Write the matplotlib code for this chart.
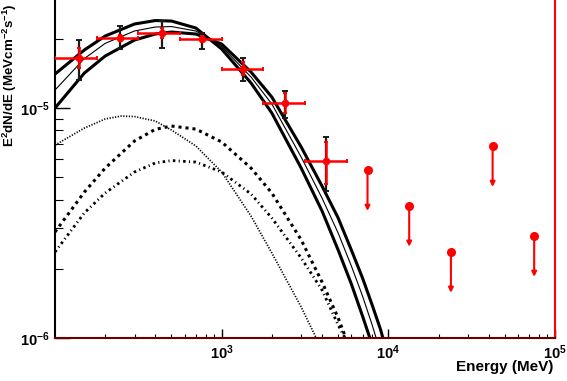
import matplotlib
matplotlib.use('Agg')
import matplotlib.pyplot as plt
from matplotlib.ticker import FixedLocator, NullFormatter, FuncFormatter
from matplotlib.transforms import offset_copy
import numpy as np

plt.rcParams['font.family'] = ['Liberation Sans', 'DejaVu Sans']
plt.rcParams['font.weight'] = 'bold'
plt.rcParams['mathtext.fontset'] = 'custom'
plt.rcParams['mathtext.rm'] = 'Liberation Sans:bold'
plt.rcParams['mathtext.bf'] = 'Liberation Sans:bold'
plt.rcParams['mathtext.it'] = 'Liberation Sans:bold'

# ---------------- data ----------------
# flux points (MeV, MeV cm^-2 s^-1)
E_pts = [140, 245, 440, 760, 1340, 2390, 4220]
E_lo = [100, 178, 316, 562, 1000, 1778, 3162]
E_hi = [178, 316, 562, 1000, 1778, 3162, 5623]
F_pts = [1.65e-5, 2.02e-5, 2.11e-5, 2.00e-5, 1.477e-5, 1.048e-5, 5.88e-6]
F_stat_lo = [1.49e-5, 1.96e-5, 2.02e-5, 1.94e-5, 1.39e-5, 9.54e-6, 4.67e-6]
F_stat_hi = [1.82e-5, 2.08e-5, 2.22e-5, 2.06e-5, 1.58e-5, 1.159e-5, 7.14e-6]
F_sys_lo = [1.32e-5, 1.80e-5, 1.83e-5, 1.80e-5, 1.31e-5, 9.02e-6, 4.37e-6]
F_sys_hi = [1.975e-5, 2.27e-5, 2.40e-5, 2.11e-5, 1.644e-5, 1.19e-5, 7.46e-6]

# upper limits
E_ul = [7500, 13340, 23740, 42240, 75000]
F_ul = [5.38e-6, 3.76e-6, 2.37e-6, 6.84e-6, 2.78e-6]

# model curves
E_model = [100, 150, 200, 300, 400, 500, 700, 1000, 1500, 2000, 3000, 4000,
           5000, 6000, 7000, 8000, 9000, 10000]
F_best = [1.197e-5, 1.641e-5, 1.910e-5, 2.163e-5, 2.250e-5, 2.261e-5, 2.162e-5,
          1.851e-5, 1.364e-5, 1.041e-5, 6.12e-6, 4.06e-6, 2.86e-6, 2.056e-6,
          1.523e-6, 1.139e-6, 8.6e-7, 6.5e-7]
F_bandA = [1.405e-5, 1.788e-5, 2.056e-5, 2.319e-5, 2.401e-5, 2.389e-5, 2.228e-5,
           1.805e-5, 1.285e-5, 9.51e-6, 5.48e-6, 3.57e-6, 2.413e-6, 1.717e-6,
           1.246e-6, 9.32e-7, 7.0e-7, 5.2e-7]
F_bandB = [1.0e-5, 1.419e-5, 1.683e-5, 1.975e-5, 2.098e-5, 2.140e-5, 2.098e-5,
           1.898e-5, 1.434e-5, 1.116e-5, 6.77e-6, 4.58e-6, 3.325e-6, 2.413e-6,
           1.824e-6, 1.391e-6, 1.083e-6, 8.18e-7]

E_fine = [100, 150, 200, 250, 300, 400, 500, 700, 1000, 1500, 2000, 3000, 3500, 4000]
F_fine = [6.90e-6, 8.18e-6, 8.96e-6, 9.23e-6, 9.18e-6, 8.78e-6, 8.02e-6, 6.84e-6,
          5.27e-6, 3.39e-6, 2.342e-6, 1.364e-6, 1.083e-6, 8.87e-7]

E_comp = [100, 150, 200, 300, 400, 500, 700, 1000, 1500, 2000, 3000, 4000, 5000, 5500, 6000]
F_dots = [2.89e-6, 4.31e-6, 5.48e-6, 7.19e-6, 8.08e-6, 8.35e-6, 8.10e-6, 7.12e-6,
          5.48e-6, 4.27e-6, 2.67e-6, 1.752e-6, 1.222e-6, 1.020e-6, 8.69e-7]
F_dashdot = [2.366e-6, 3.50e-6, 4.27e-6, 5.27e-6, 5.77e-6, 5.91e-6, 5.82e-6, 5.27e-6,
             4.23e-6, 3.325e-6, 2.228e-6, 1.617e-6, 1.139e-6, 1.0e-6, 8.69e-7]

x_major = [1e3, 1e4, 1e5]
y_major = [1e-6, 1e-5]

# ---------------- figure ----------------
W, H = 567, 381
fig = plt.figure(figsize=(W / 100, H / 100), dpi=100)
ax = fig.add_axes([55 / W, 43 / H, 500 / W, 339.7 / H])
ax.set_xscale('log')
ax.set_yscale('log')
ax.set_xlim(100, 1e5)
ax.set_ylim(1e-6, 3e-5)

# model curves
ax.plot(E_model, F_bandA, color='black', lw=2.2, zorder=2)
ax.plot(E_model, F_bandB, color='black', lw=2.2, zorder=2)
ax.plot(E_model, F_best, color='black', lw=0.8, zorder=2)
ax.plot(E_fine, F_fine, color='black', lw=1.25, ls=(0, (0.7, 0.9)), zorder=2)
ax.plot(E_comp, F_dots, color='black', lw=2.2, ls=(0, (1.0, 1.3)), zorder=2)
ax.plot(E_comp, F_dashdot, color='black', lw=2.0, ls=(0, (0.9, 1.2, 0.4, 1.2)), zorder=2)

E = np.array(E_pts)
F = np.array(F_pts)
# systematic (black) error bars
ax.errorbar(E, F, yerr=[F - np.array(F_sys_lo), np.array(F_sys_hi) - F],
            fmt='none', ecolor='#1a1a1a', elinewidth=1.6, capsize=2.4, capthick=1.4, zorder=3)
# statistical (red) error bars
ax.errorbar(E, F, xerr=[E - np.array(E_lo), np.array(E_hi) - E],
            yerr=[F - np.array(F_stat_lo), np.array(F_stat_hi) - F],
            fmt='o', color='red', ms=4.5, ecolor='red', elinewidth=1.8,
            capsize=1.6, capthick=1.4, zorder=4)

# upper limits
ax.plot(E_ul, F_ul, 'o', color='red', ms=5.5, zorder=4)
for e, f in zip(E_ul, F_ul):
    head = offset_copy(ax.transData, fig=fig, x=0, y=-29.5, units='points')
    ax.annotate('', xy=(e, f), xycoords=head, xytext=(e, f), textcoords='data',
                arrowprops=dict(arrowstyle='-|>', color='red', lw=1.5,
                                mutation_scale=7, shrinkA=0, shrinkB=0), zorder=4)

# axes styling
ax.spines['top'].set_visible(False)
ax.spines['left'].set_color('black')
ax.spines['left'].set_linewidth(1.5)
ax.spines['bottom'].set_color('#6a0000')
ax.spines['bottom'].set_linewidth(1.5)
ax.spines['right'].set_color('red')
ax.spines['right'].set_linewidth(1.5)

ax.xaxis.set_major_locator(FixedLocator(x_major))
ax.yaxis.set_major_locator(FixedLocator(y_major))
fmt = FuncFormatter(lambda v, p: r'$\mathbf{10^{%d}}$' % int(round(np.log10(v))))
ax.xaxis.set_major_formatter(fmt)
ax.yaxis.set_major_formatter(fmt)
ax.xaxis.set_minor_formatter(NullFormatter())
ax.yaxis.set_minor_formatter(NullFormatter())

ax.tick_params(which='both', direction='in', top=False, right=False, color='black')
ax.tick_params(axis='x', which='major', length=6.5, width=1.0, labelsize=10.5, pad=4)
ax.tick_params(axis='x', which='minor', length=3.2, width=0.8)
ax.tick_params(axis='y', which='major', length=11, width=1.0, labelsize=10.5, pad=4)
ax.tick_params(axis='y', which='minor', length=5.5, width=0.8)

fig.text(553 / W, 1 - 367 / H, 'Energy (MeV)', ha='right', va='center',
         fontsize=11, fontweight='bold')
fig.text(10 / W, 1 - 3 / H, r'E$^{2}$dN/dE (MeVcm$^{-2}$s$^{-1}$)', rotation=90,
         ha='center', va='top', fontsize=9.6, fontweight='bold')

fig.savefig('out.png', dpi=100)
